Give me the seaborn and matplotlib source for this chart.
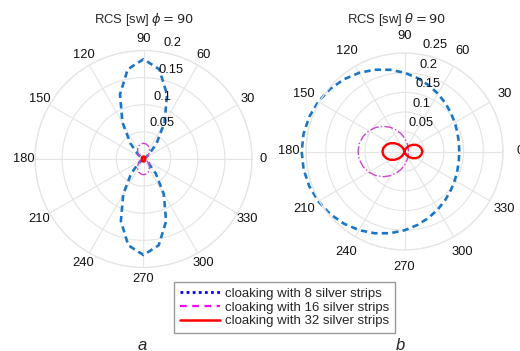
import numpy as np
import matplotlib
matplotlib.use("Agg")
import matplotlib.pyplot as plt
import seaborn as sns
from matplotlib.lines import Line2D

# ---------------- data ----------------
angles_deg = list(range(0, 361, 10))

# panel a : RCS, phi = 90 cut
a_strips8 = [0, 0, 0.0003, 0.0029, 0.013, 0.0371, 0.0776, 0.1267, 0.1678, 0.184,
             0.1678, 0.1267, 0.0776, 0.0371, 0.013, 0.0029, 0.0003, 0, 0,
             0, 0.0003, 0.0028, 0.0125, 0.0357, 0.0747, 0.1219, 0.1615, 0.177,
             0.1615, 0.1219, 0.0747, 0.0357, 0.0125, 0.0028, 0.0003, 0, 0]
a_strips16 = [0, 0.0009, 0.0034, 0.0073, 0.012, 0.017, 0.0218, 0.0256, 0.0281, 0.029,
              0.0281, 0.0256, 0.0218, 0.017, 0.012, 0.0073, 0.0034, 0.0009, 0,
              0.0009, 0.0034, 0.0073, 0.012, 0.017, 0.0218, 0.0256, 0.0281, 0.029,
              0.0281, 0.0256, 0.0218, 0.017, 0.012, 0.0073, 0.0034, 0.0009, 0]
a_strips32 = [0.003, 0.003, 0.0032, 0.0035, 0.0038, 0.0041, 0.0043, 0.0045, 0.0046, 0.0046,
              0.0046, 0.0045, 0.0043, 0.0041, 0.0038, 0.0035, 0.0032, 0.003, 0.003,
              0.003, 0.0032, 0.0035, 0.0038, 0.0041, 0.0043, 0.0045, 0.0046, 0.0046,
              0.0046, 0.0045, 0.0043, 0.0041, 0.0038, 0.0035, 0.0032, 0.003, 0.003]

# panel b : RCS, theta = 90 cut
b_strips8 = [0.139, 0.1399, 0.1427, 0.1472, 0.1533, 0.1608, 0.1695, 0.1791, 0.1894, 0.2,
             0.2106, 0.2209, 0.2305, 0.2392, 0.2467, 0.2528, 0.2573, 0.2601, 0.261,
             0.2601, 0.2573, 0.2528, 0.2467, 0.2392, 0.2305, 0.2209, 0.2106, 0.2,
             0.1894, 0.1791, 0.1695, 0.1608, 0.1533, 0.1472, 0.1427, 0.1399, 0.139]
b_strips16 = [0.010, 0.0101, 0.0105, 0.0113, 0.0124, 0.0141, 0.0167, 0.0205, 0.0262, 0.0344,
              0.045, 0.0575, 0.0707, 0.0836, 0.0951, 0.1048, 0.112, 0.1165, 0.118,
              0.1165, 0.112, 0.1048, 0.0951, 0.0836, 0.0707, 0.0575, 0.045, 0.0344,
              0.0262, 0.0205, 0.0167, 0.0141, 0.0124, 0.0113, 0.0105, 0.0101, 0.010]
b_strips32 = [0.045, 0.0437, 0.0397, 0.0338, 0.0264, 0.0186, 0.0113, 0.0053, 0.0014, 0,
              0.0017, 0.0066, 0.014, 0.0231, 0.0329, 0.042, 0.0494, 0.0543, 0.056,
              0.0543, 0.0494, 0.042, 0.0329, 0.0231, 0.014, 0.0066, 0.0017, 0,
              0.0014, 0.0053, 0.0113, 0.0186, 0.0264, 0.0338, 0.0397, 0.0437, 0.045]

a_rticks = [0.05, 0.1, 0.15, 0.2]
b_rticks = [0.05, 0.1, 0.15, 0.2, 0.25]
theta_ticks = list(range(0, 360, 30))
titles = ["RCS [sw] $\\phi = 90$", "RCS [sw] $\\theta = 90$"]
panel_labels = ["a", "b"]
legend_labels = ["cloaking with 8 silver strips",
                 "cloaking with 16 silver strips",
                 "cloaking with 32 silver strips"]

# ---------------- style ----------------
sns.set_style("white")
plt.rcParams['font.family'] = ['Liberation Sans', 'DejaVu Sans']
plt.rcParams['mathtext.fontset'] = 'dejavusans'

W, H = 520, 351
fig = plt.figure(figsize=(W / 100, H / 100), dpi=100)

def fx(px):
    return px / W

def fy(py):
    return 1 - py / H

axL = fig.add_axes([fx(35), fy(267.5), 217 / W, 217 / H], projection='polar')
axR = fig.add_axes([fx(306), fy(250), 197 / W, 197 / H], projection='polar')

theta = np.deg2rad(angles_deg)

c8 = '#1c76c6'
c16 = '#cc44cc'
c32 = '#ff0000'
FS = 9.3

def draw(ax, r8, r16, r32, rticks, label_r):
    sns.lineplot(x=theta, y=r8, ax=ax, sort=False, estimator=None, color=c8,
                 lw=1.9, linestyle=(0, (2.4, 1.6)), clip_on=False)
    sns.lineplot(x=theta, y=r16, ax=ax, sort=False, estimator=None, color=c16,
                 lw=1.0, linestyle='-.', clip_on=False)
    sns.lineplot(x=theta, y=r32, ax=ax, sort=False, estimator=None, color=c32,
                 lw=1.7, linestyle='-', clip_on=False)
    rmax = rticks[-1]
    ax.set_ylim(0, rmax)
    ax.set_rticks(rticks)
    ax.set_yticklabels([])
    ax.set_thetagrids(theta_ticks, [''] * len(theta_ticks))
    ax.grid(True, color='#e4e4e4', lw=0.8)
    ax.spines['polar'].set_color('#e4e4e4')
    ax.spines['polar'].set_linewidth(0.9)
    ax.set_xlabel('')
    ax.set_ylabel('')
    for t in theta_ticks:
        ax.text(np.deg2rad(t), rmax * label_r, str(t), ha='center', va='center',
                fontsize=FS, color='#111111', clip_on=False)
    for r in rticks:
        ax.annotate(f"{r:g}", xy=(np.deg2rad(80), r), xytext=(1, 9),
                    textcoords='offset pixels', ha='left', va='center',
                    fontsize=FS, color='#111111', annotation_clip=False)

draw(axL, a_strips8, a_strips16, a_strips32, a_rticks, 1.105)
draw(axR, b_strips8, b_strips16, b_strips32, b_rticks, 1.175)

fig.text(fx(143.5), fy(19), titles[0], ha='center', va='center', fontsize=9.4)
fig.text(fx(397), fy(19), titles[1], ha='center', va='center', fontsize=9.4)

fig.text(fx(142), fy(345), panel_labels[0], ha='center', va='center',
         fontsize=12, style='italic')
fig.text(fx(400), fy(345), panel_labels[1], ha='center', va='center',
         fontsize=12, style='italic')

handles = [Line2D([], [], color='#0000ff', lw=2.0, linestyle=(0, (1, 1.2))),
           Line2D([], [], color='#ff00ff', lw=1.6, linestyle=(0, (3, 2.5))),
           Line2D([], [], color='#ff0000', lw=1.8, linestyle='-')]
leg = fig.legend(handles, legend_labels, loc='center',
                 bbox_to_anchor=(fx(284.5), fy(307.5)), frameon=True,
                 fancybox=False, edgecolor='#808080', fontsize=9.5,
                 handlelength=3.0, handletextpad=0.4, labelspacing=0.1,
                 borderpad=0.45, borderaxespad=0)
leg.get_frame().set_linewidth(1.0)

fig.savefig("out.png", dpi=100)
